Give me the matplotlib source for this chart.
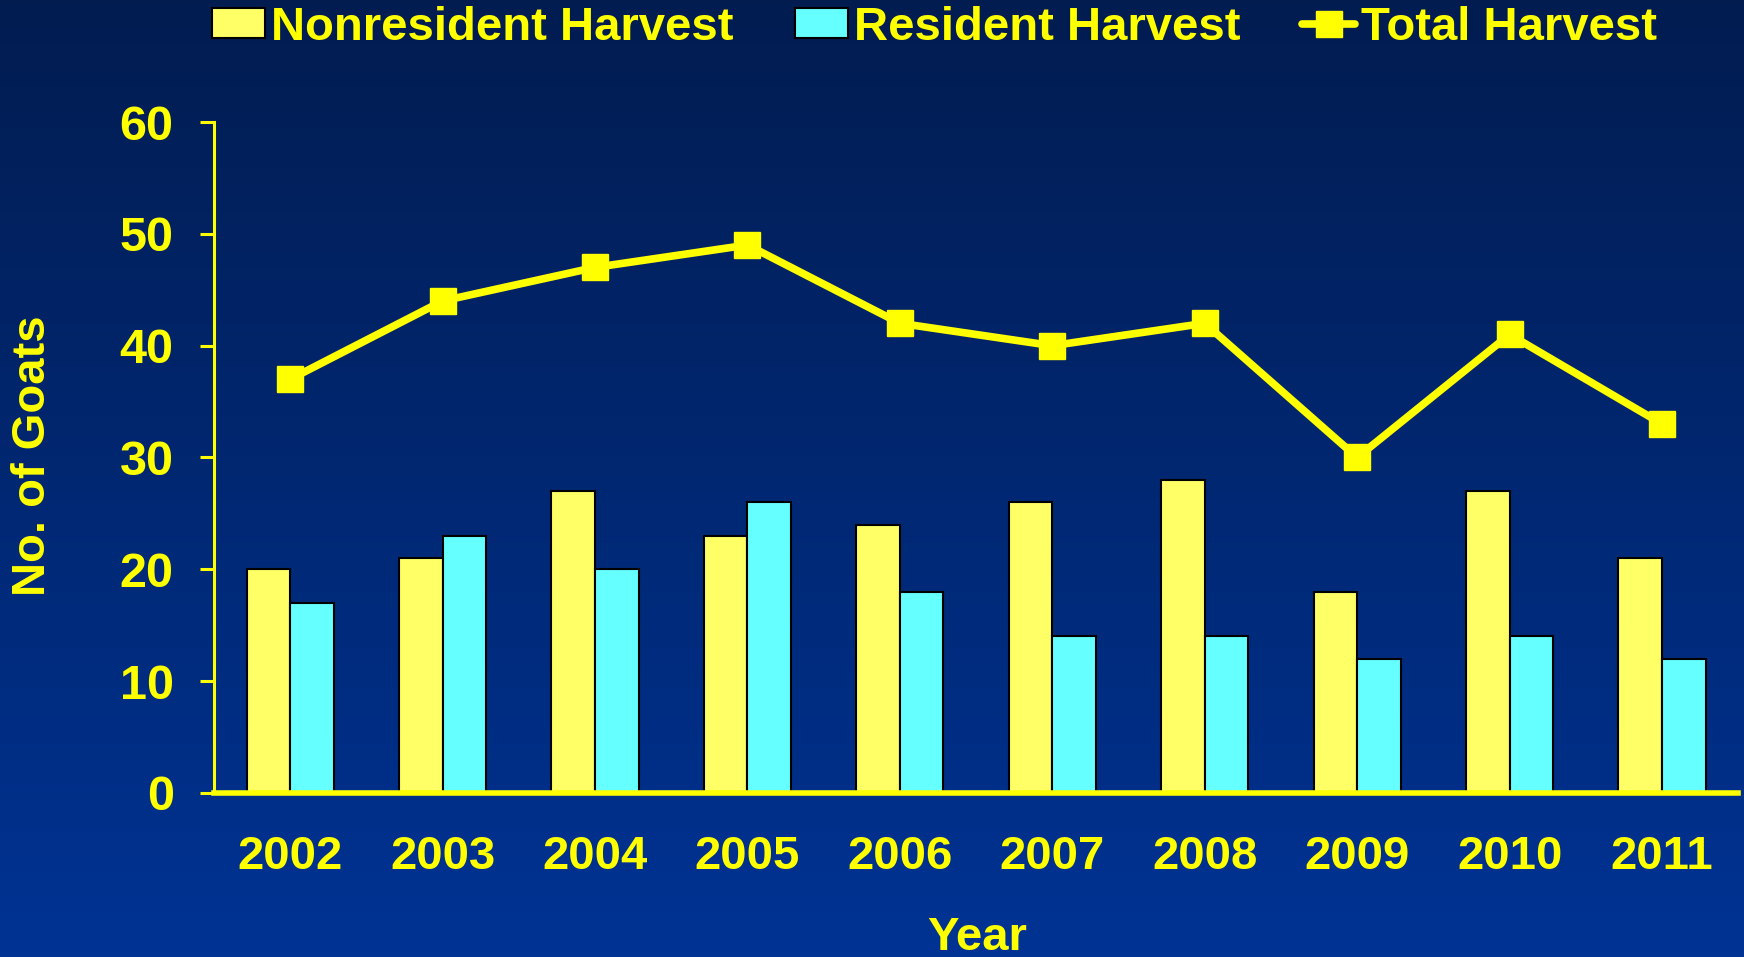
import matplotlib.pyplot as plt
import numpy as np

# Goat harvest numbers per year
years = ['2002', '2003', '2004', '2005', '2006', '2007', '2008', '2009', '2010', '2011']
nonresident = [20, 21, 27, 23, 24, 26, 28, 18, 27, 21]
resident = [17, 23, 20, 26, 18, 14, 14, 12, 14, 12]
total = [37, 44, 47, 49, 42, 40, 42, 30, 41, 33]

yellow_txt = '#FFFF00'
plt.rcParams['font.family'] = ['Liberation Sans', 'DejaVu Sans']
plt.rcParams['font.weight'] = 'bold'

fig = plt.figure(figsize=(17.44, 9.57), dpi=100)

# gradient background
bg = fig.add_axes([0, 0, 1, 1], zorder=-10)
top = np.array([0x02, 0x1c, 0x50]) / 255
bot = np.array([0x00, 0x33, 0x94]) / 255
t = np.linspace(0, 1, 256)[:, None]
grad = top[None, :] * (1 - t) + bot[None, :] * t
bg.imshow(grad[:, None, :], aspect='auto', extent=[0, 1, 0, 1])
bg.axis('off')

ax = fig.add_axes([0.1227, 0.1714, 0.874, 0.7011])
ax.patch.set_alpha(0)

x = np.arange(len(years))
w = 0.286
b1 = ax.bar(x - w / 2, nonresident, w, color='#FFFF66', edgecolor='black', linewidth=1.5,
            label='Nonresident Harvest', zorder=2)
b2 = ax.bar(x + w / 2, resident, w, color='#66FFFF', edgecolor='black', linewidth=1.5,
            label='Resident Harvest', zorder=2)
ln, = ax.plot(x, total, color='#FFFF00', linewidth=5.5, marker='s', markersize=19,
              solid_capstyle='round', label='Total Harvest', zorder=3)

ax.set_xlim(-0.5, 9.5)
ax.set_ylim(0, 60)
ax.set_yticks(range(0, 61, 10))
ax.set_xticks(x)
ax.set_xticklabels(years)

for s in ['top', 'right']:
    ax.spines[s].set_visible(False)
ax.spines['left'].set_color(yellow_txt)
ax.spines['left'].set_linewidth(2.2)
ax.spines['bottom'].set_color(yellow_txt)
ax.spines['bottom'].set_linewidth(4)
ax.spines['bottom'].set_zorder(4)

ax.tick_params(axis='y', colors=yellow_txt, length=10, width=2.2, labelsize=35, pad=19)
ax.tick_params(axis='x', colors=yellow_txt, length=0, labelsize=34, pad=30)

fig.text(33 / 1744, 1 - 456 / 957, 'No. of Goats', rotation=90, color=yellow_txt,
         fontsize=34, fontweight='bold', ha='center', va='center')
fig.text(977 / 1744, 1 - 938 / 957, 'Year', color=yellow_txt,
         fontsize=34, fontweight='bold', ha='center', va='center')

leg = fig.legend(handles=[b1, b2, ln], loc='center left', ncol=3, frameon=False,
                 bbox_to_anchor=(212 / 1744, 1 - 28 / 957), borderaxespad=0, borderpad=0,
                 handlelength=1.13, handleheight=0.6, handletextpad=0.12,
                 columnspacing=1.3, fontsize=34)
for txt in leg.get_texts():
    txt.set_color(yellow_txt)

plt.savefig('out.png', dpi=100)
